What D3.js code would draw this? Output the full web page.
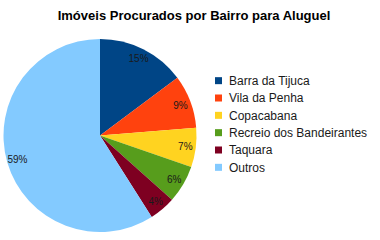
<!DOCTYPE html>
<html>
<head>
<meta charset="utf-8">
<script src="https://d3js.org/d3.v7.min.js"></script>
<style>
  body { margin: 0; background: #fff; }
  text { font-family: "Liberation Sans", Arial, sans-serif; }
</style>
</head>
<body>
<script>
// data
var bairros = ["Barra da Tijuca", "Vila da Penha", "Copacabana", "Recreio dos Bandeirantes", "Taquara", "Outros"];
var valores = [14.8, 8.9, 6.6, 6.3, 4.4, 59.0];
var cores = ["#004586", "#ff420e", "#ffd320", "#579d1c", "#7e0021", "#83caff"];

var width = 380, height = 240;
var cx = 100, cy = 135.5, r = 96.5;

var svg = d3.select("body").append("svg")
    .attr("width", width)
    .attr("height", height);

svg.append("text")
    .attr("x", 194)
    .attr("y", 20)
    .attr("text-anchor", "middle")
    .style("font-size", "13px")
    .style("font-weight", "bold")
    .text("Imóveis Procurados por Bairro para Aluguel");

var data = bairros.map(function(b, i) { return {nome: b, valor: valores[i], cor: cores[i]}; });

var pie = d3.pie().sort(null).value(function(d) { return d.valor; });
var arc = d3.arc().innerRadius(0).outerRadius(r);
var labelArc = d3.arc().innerRadius(86).outerRadius(86);

var g = svg.append("g").attr("transform", "translate(" + cx + "," + cy + ")");

g.selectAll("path")
    .data(pie(data))
  .enter().append("path")
    .attr("d", arc)
    .attr("fill", function(d) { return d.data.cor; });

g.selectAll(".lbl")
    .data(pie(data))
  .enter().append("text")
    .attr("class", "lbl")
    .attr("transform", function(d) {
      var c = labelArc.centroid(d);
      return "translate(" + c[0] + "," + c[1] + ")";
    })
    .attr("text-anchor", "middle")
    .attr("dy", "0.35em")
    .style("font-size", "10px")
    .style("fill", "#1a1a1a")
    .text(function(d) { return Math.round(d.data.valor) + "%"; });

// legend
var y = d3.scaleBand().domain(bairros).range([72, 176]);

var leg = svg.append("g");
leg.selectAll("rect")
    .data(data)
  .enter().append("rect")
    .attr("x", 215)
    .attr("y", function(d) { return y(d.nome) + y.bandwidth() / 2 - 3.5; })
    .attr("width", 7)
    .attr("height", 7)
    .attr("fill", function(d) { return d.cor; });

leg.selectAll("text")
    .data(data)
  .enter().append("text")
    .attr("x", 229)
    .attr("y", function(d) { return y(d.nome) + y.bandwidth() / 2; })
    .attr("dy", "0.36em")
    .style("font-size", "12px")
    .style("fill", "#1a1a1a")
    .text(function(d) { return d.nome; });
</script>
</body>
</html>
